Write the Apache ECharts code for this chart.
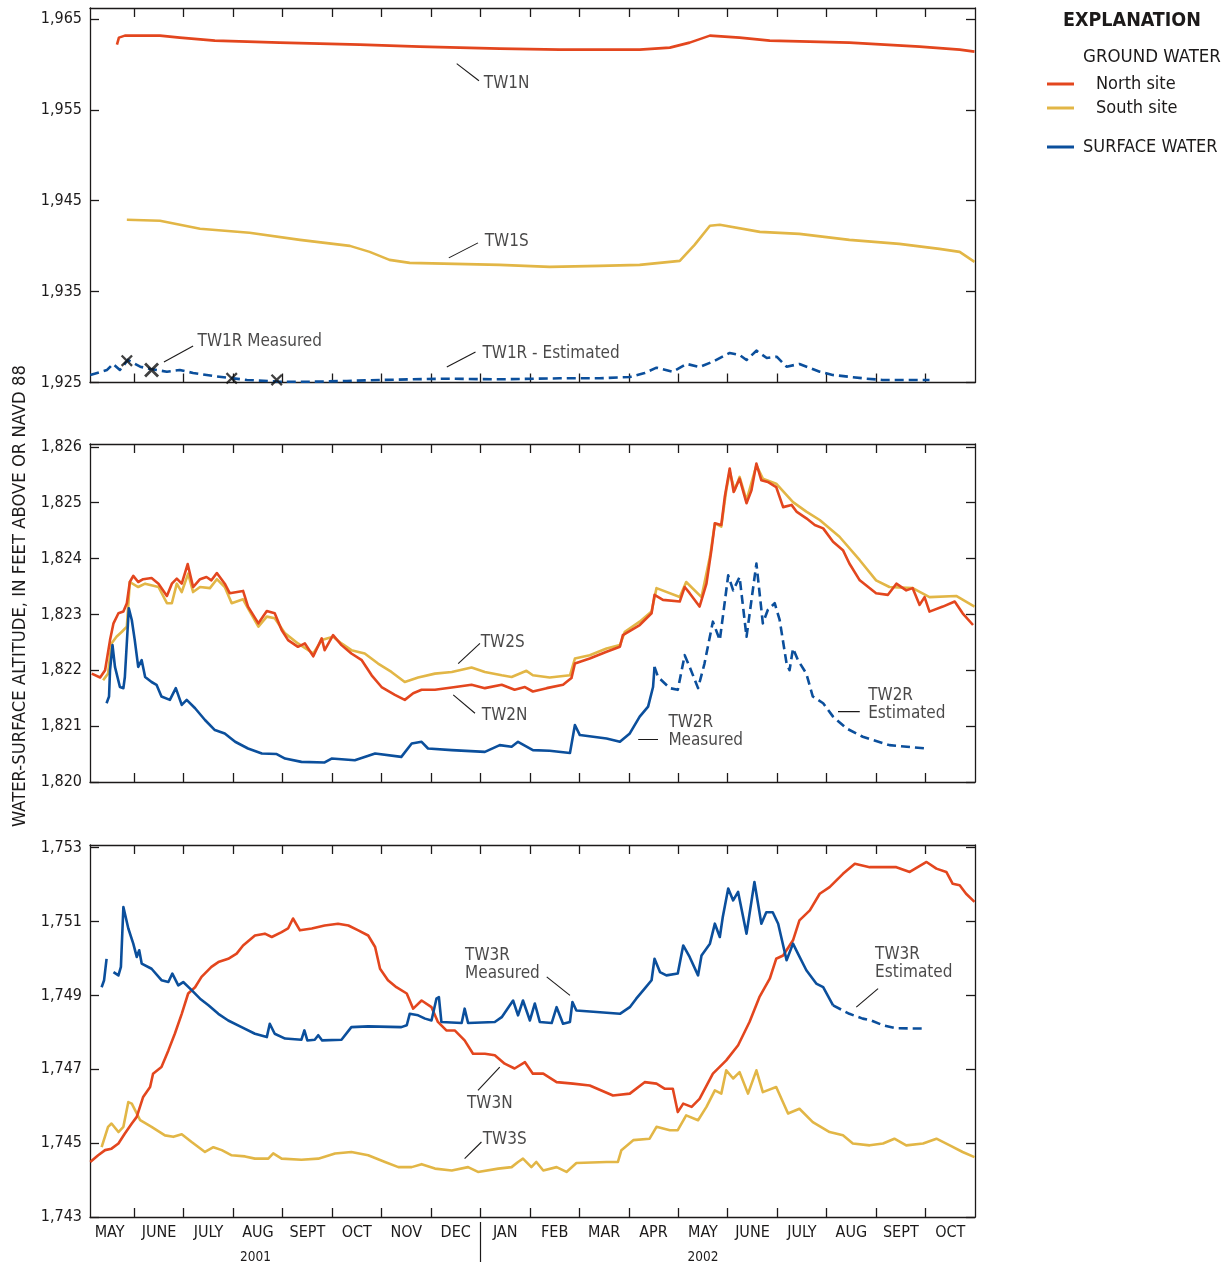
<!DOCTYPE html>
<html><head><meta charset="utf-8">
<script src="https://cdn.jsdelivr.net/npm/echarts@6/dist/echarts.min.js"></script>
<style>html,body{margin:0;padding:0;background:#fff}#c{width:1230px;height:1266px}</style>
</head><body><div id="c"></div>
<script>
// x values: months elapsed since 1 May 2001 (every calendar month drawn with equal width, as in the figure)
const monthLabels = ['MAY','JUNE','JULY','AUG','SEPT','OCT','NOV','DEC','JAN','FEB','MAR','APR','MAY','JUNE','JULY','AUG','SEPT','OCT'];
const yearLabels = ['2001','2002'];
const yearLabelPos = [3.45, 12.5];
const yearBreak = [8];
const topTicks = [1925,1935,1945,1955,1965];
const midTicks = [1820,1821,1822,1823,1824,1825,1826];
const botTicks = [1743,1745,1747,1749,1751,1753];

// ---- Site 1 (top panel)
const tw1n = [[0.65,1962.17],[0.69,1962.94],[0.81,1963.16],[1.52,1963.16],[1.92,1962.94],[2.63,1962.61],[3.94,1962.39],[5.56,1962.17],[6.77,1961.95],[8.39,1961.73],[9.60,1961.62],[11.22,1961.62],[11.83,1961.84],[12.23,1962.39],[12.64,1963.16],[13.24,1962.94],[13.85,1962.61],[15.46,1962.39],[16.88,1961.95],[17.69,1961.62],[17.99,1961.40]];
const tw1s = [[0.85,1942.90],[1.52,1942.79],[2.33,1941.91],[3.33,1941.47],[4.35,1940.69],[5.36,1940.03],[5.76,1939.37],[6.16,1938.49],[6.57,1938.16],[8.39,1937.94],[9.40,1937.72],[10.41,1937.83],[11.22,1937.94],[12.03,1938.38],[12.33,1940.14],[12.64,1942.24],[12.84,1942.35],[13.65,1941.57],[14.45,1941.35],[15.46,1940.69],[16.47,1940.25],[17.28,1939.70],[17.69,1939.37],[17.99,1938.27]];
const tw1rEstimated = [[0.11,1925.83],[0.45,1926.38],[0.57,1927.04],[0.71,1926.38],[0.87,1927.48],[1.12,1926.74],[1.32,1926.49],[1.66,1926.19],[1.92,1926.38],[2.19,1926.05],[2.59,1925.72],[2.93,1925.50],[3.28,1925.28],[3.94,1925.09],[4.61,1925.09],[5.30,1925.17],[5.97,1925.28],[6.63,1925.35],[7.32,1925.42],[8.33,1925.35],[9.60,1925.46],[10.41,1925.46],[11.02,1925.61],[11.32,1926.05],[11.56,1926.63],[11.89,1926.19],[12.17,1927.04],[12.43,1926.71],[12.70,1927.29],[13.04,1928.25],[13.24,1928.03],[13.38,1927.48],[13.58,1928.50],[13.79,1927.70],[13.99,1927.84],[14.19,1926.74],[14.45,1927.04],[14.86,1926.19],[15.12,1925.83],[15.81,1925.42],[16.13,1925.28],[17.08,1925.28]];
const tw1rMeasured = [[0.85,1927.40],[1.35,1926.38],[2.97,1925.46],[3.88,1925.28]];

// ---- Site 2 (middle panel)
const tw2n = [[0.14,1821.94],[0.31,1821.87],[0.41,1822.00],[0.51,1822.54],[0.58,1822.84],[0.68,1823.02],[0.78,1823.05],[0.85,1823.20],[0.91,1823.58],[0.98,1823.69],[1.08,1823.58],[1.18,1823.63],[1.35,1823.65],[1.49,1823.55],[1.66,1823.33],[1.76,1823.55],[1.86,1823.64],[1.96,1823.55],[2.08,1823.90],[2.19,1823.49],[2.33,1823.63],[2.46,1823.67],[2.56,1823.61],[2.67,1823.74],[2.83,1823.55],[2.93,1823.38],[3.20,1823.42],[3.30,1823.14],[3.51,1822.84],[3.68,1823.06],[3.84,1823.02],[3.98,1822.72],[4.11,1822.54],[4.31,1822.42],[4.45,1822.48],[4.62,1822.25],[4.79,1822.57],[4.85,1822.36],[5.02,1822.63],[5.19,1822.45],[5.39,1822.30],[5.60,1822.18],[5.80,1821.91],[6.00,1821.70],[6.27,1821.56],[6.47,1821.47],[6.64,1821.59],[6.81,1821.65],[7.08,1821.65],[7.42,1821.69],[7.82,1821.74],[8.09,1821.68],[8.43,1821.74],[8.69,1821.65],[8.90,1821.70],[9.06,1821.62],[9.34,1821.68],[9.67,1821.74],[9.84,1821.86],[9.91,1822.12],[10.21,1822.21],[10.55,1822.33],[10.82,1822.42],[10.88,1822.63],[11.22,1822.81],[11.46,1823.02],[11.52,1823.35],[11.69,1823.26],[12.03,1823.23],[12.13,1823.49],[12.23,1823.38],[12.43,1823.14],[12.57,1823.55],[12.67,1824.15],[12.74,1824.63],[12.87,1824.60],[12.94,1825.10],[13.04,1825.61],[13.12,1825.19],[13.24,1825.43],[13.38,1824.99],[13.48,1825.22],[13.58,1825.70],[13.68,1825.40],[13.81,1825.37],[13.98,1825.28],[14.12,1824.92],[14.29,1824.96],[14.39,1824.84],[14.59,1824.72],[14.76,1824.60],[14.93,1824.54],[15.13,1824.30],[15.33,1824.15],[15.46,1823.91],[15.67,1823.61],[16.00,1823.38],[16.24,1823.35],[16.41,1823.55],[16.61,1823.43],[16.74,1823.47],[16.88,1823.17],[16.98,1823.31],[17.08,1823.05],[17.35,1823.14],[17.59,1823.23],[17.75,1823.02],[17.96,1822.81]];
const tw2s = [[0.37,1821.82],[0.47,1821.94],[0.54,1822.48],[0.64,1822.60],[0.75,1822.69],[0.85,1822.78],[0.91,1823.58],[1.08,1823.49],[1.22,1823.55],[1.49,1823.49],[1.66,1823.20],[1.76,1823.20],[1.86,1823.55],[1.96,1823.40],[2.09,1823.73],[2.19,1823.40],[2.33,1823.49],[2.53,1823.47],[2.67,1823.63],[2.83,1823.49],[2.97,1823.20],[3.20,1823.27],[3.30,1823.11],[3.51,1822.78],[3.68,1822.96],[3.84,1822.93],[4.05,1822.66],[4.31,1822.48],[4.62,1822.30],[4.79,1822.54],[5.02,1822.60],[5.19,1822.48],[5.39,1822.36],[5.66,1822.30],[5.93,1822.12],[6.20,1821.97],[6.47,1821.79],[6.74,1821.87],[7.08,1821.94],[7.42,1821.97],[7.82,1822.05],[8.09,1821.97],[8.43,1821.91],[8.63,1821.88],[8.93,1821.99],[9.06,1821.91],[9.40,1821.87],[9.81,1821.91],[9.91,1822.21],[10.21,1822.27],[10.55,1822.39],[10.82,1822.45],[10.92,1822.69],[11.22,1822.87],[11.46,1823.05],[11.56,1823.47],[12.03,1823.31],[12.16,1823.58],[12.47,1823.31],[12.64,1824.03],[12.74,1824.63],[12.87,1824.57],[12.97,1825.22],[13.04,1825.55],[13.14,1825.22],[13.24,1825.46],[13.38,1825.04],[13.58,1825.67],[13.71,1825.43],[13.98,1825.34],[14.32,1825.01],[14.59,1824.84],[14.86,1824.69],[15.26,1824.39],[15.67,1823.97],[16.00,1823.61],[16.27,1823.49],[16.74,1823.47],[17.08,1823.31],[17.62,1823.33],[17.99,1823.14]];
const tw2rMeasured = [[0.44,1821.41],[0.49,1821.53],[0.51,1822.00],[0.56,1822.45],[0.61,1822.06],[0.71,1821.70],[0.78,1821.68],[0.81,1821.88],[0.89,1823.11],[0.95,1822.90],[1.01,1822.54],[1.08,1822.06],[1.15,1822.18],[1.22,1821.88],[1.35,1821.79],[1.45,1821.74],[1.55,1821.53],[1.72,1821.47],[1.84,1821.68],[1.96,1821.38],[2.06,1821.47],[2.23,1821.32],[2.43,1821.11],[2.63,1820.93],[2.83,1820.87],[3.04,1820.72],[3.30,1820.60],[3.58,1820.51],[3.88,1820.50],[4.05,1820.42],[4.38,1820.36],[4.85,1820.35],[4.99,1820.42],[5.46,1820.39],[5.87,1820.51],[6.40,1820.45],[6.61,1820.69],[6.81,1820.72],[6.94,1820.60],[7.42,1820.57],[8.09,1820.54],[8.39,1820.66],[8.63,1820.63],[8.76,1820.72],[9.06,1820.57],[9.40,1820.56],[9.81,1820.52],[9.91,1821.02],[10.01,1820.84],[10.55,1820.78],[10.82,1820.72],[11.02,1820.87],[11.22,1821.17],[11.39,1821.35],[11.49,1821.70],[11.52,1822.06]];
const tw2rEstimated = [[11.52,1822.06],[11.59,1821.88],[11.83,1821.68],[11.99,1821.65],[12.13,1822.27],[12.23,1822.06],[12.40,1821.68],[12.53,1822.12],[12.70,1822.87],[12.84,1822.54],[13.01,1823.70],[13.11,1823.43],[13.24,1823.67],[13.38,1822.60],[13.58,1823.91],[13.71,1822.84],[13.81,1823.08],[13.95,1823.20],[14.05,1822.90],[14.19,1822.12],[14.25,1822.00],[14.32,1822.39],[14.42,1822.18],[14.59,1821.94],[14.72,1821.53],[14.93,1821.41],[15.13,1821.17],[15.40,1820.96],[15.73,1820.81],[15.94,1820.75],[16.27,1820.66],[17.02,1820.60]];

// ---- Site 3 (bottom panel)
const tw3n = [[0.11,1744.49],[0.27,1744.67],[0.41,1744.81],[0.54,1744.85],[0.68,1744.99],[0.81,1745.26],[0.95,1745.53],[1.05,1745.71],[1.18,1746.25],[1.32,1746.52],[1.38,1746.88],[1.55,1747.06],[1.69,1747.51],[1.82,1747.96],[1.96,1748.50],[2.09,1749.05],[2.23,1749.22],[2.36,1749.50],[2.56,1749.77],[2.70,1749.90],[2.90,1749.99],[3.07,1750.13],[3.20,1750.35],[3.44,1750.62],[3.64,1750.67],[3.78,1750.58],[3.98,1750.71],[4.11,1750.81],[4.21,1751.08],[4.35,1750.76],[4.59,1750.81],[4.85,1750.89],[5.12,1750.94],[5.33,1750.89],[5.53,1750.76],[5.73,1750.62],[5.87,1750.31],[5.97,1749.72],[6.13,1749.41],[6.30,1749.22],[6.51,1749.05],[6.64,1748.64],[6.81,1748.86],[7.01,1748.68],[7.14,1748.28],[7.31,1748.05],[7.48,1748.05],[7.68,1747.78],[7.85,1747.42],[8.09,1747.42],[8.29,1747.38],[8.49,1747.15],[8.69,1747.02],[8.90,1747.19],[9.06,1746.88],[9.27,1746.88],[9.54,1746.65],[9.87,1746.61],[10.21,1746.56],[10.68,1746.29],[11.02,1746.34],[11.32,1746.65],[11.56,1746.61],[11.73,1746.47],[11.89,1746.47],[11.99,1745.84],[12.10,1746.07],[12.27,1745.98],[12.43,1746.20],[12.70,1746.88],[12.97,1747.24],[13.21,1747.65],[13.44,1748.28],[13.64,1748.95],[13.85,1749.45],[13.98,1749.99],[14.12,1750.08],[14.32,1750.49],[14.45,1751.03],[14.66,1751.30],[14.86,1751.75],[15.06,1751.93],[15.33,1752.29],[15.57,1752.56],[15.87,1752.47],[16.14,1752.47],[16.41,1752.47],[16.68,1752.34],[17.02,1752.61],[17.22,1752.43],[17.42,1752.34],[17.55,1752.02],[17.69,1751.98],[17.82,1751.75],[17.99,1751.53]];
const tw3s = [[0.34,1744.89],[0.47,1745.44],[0.54,1745.53],[0.68,1745.30],[0.78,1745.44],[0.88,1746.11],[0.95,1746.07],[1.12,1745.62],[1.35,1745.44],[1.62,1745.21],[1.79,1745.17],[1.96,1745.24],[2.16,1745.03],[2.43,1744.76],[2.60,1744.89],[2.77,1744.81],[2.97,1744.67],[3.24,1744.64],[3.44,1744.58],[3.71,1744.58],[3.81,1744.72],[3.98,1744.58],[4.38,1744.55],[4.72,1744.58],[5.06,1744.72],[5.39,1744.76],[5.73,1744.67],[6.07,1744.49],[6.34,1744.35],[6.61,1744.35],[6.81,1744.43],[7.08,1744.31],[7.42,1744.26],[7.75,1744.35],[7.95,1744.22],[8.36,1744.31],[8.63,1744.35],[8.76,1744.49],[8.86,1744.58],[9.03,1744.35],[9.13,1744.49],[9.27,1744.26],[9.54,1744.35],[9.74,1744.22],[9.94,1744.46],[10.55,1744.49],[10.78,1744.49],[10.85,1744.81],[11.09,1745.08],[11.42,1745.12],[11.56,1745.44],[11.83,1745.35],[11.99,1745.35],[12.16,1745.75],[12.40,1745.62],[12.57,1745.98],[12.74,1746.43],[12.87,1746.34],[12.97,1746.97],[13.11,1746.75],[13.24,1746.92],[13.41,1746.34],[13.58,1746.97],[13.71,1746.38],[13.98,1746.52],[14.22,1745.80],[14.45,1745.93],[14.72,1745.57],[15.06,1745.30],[15.33,1745.21],[15.53,1744.99],[15.87,1744.94],[16.14,1744.99],[16.37,1745.12],[16.61,1744.94],[16.95,1744.99],[17.22,1745.12],[17.49,1744.94],[17.75,1744.76],[17.99,1744.62]];
const tw3rFirst = [[0.34,1749.22],[0.39,1749.41],[0.44,1749.99]];
const tw3rMeasured = [[0.58,1749.63],[0.68,1749.54],[0.73,1749.77],[0.78,1751.39],[0.88,1750.81],[0.98,1750.40],[1.05,1750.04],[1.10,1750.22],[1.15,1749.86],[1.35,1749.72],[1.55,1749.41],[1.69,1749.36],[1.77,1749.59],[1.89,1749.27],[1.99,1749.36],[2.16,1749.14],[2.33,1748.91],[2.50,1748.73],[2.70,1748.50],[2.90,1748.32],[3.17,1748.14],[3.44,1747.96],[3.68,1747.87],[3.74,1748.23],[3.84,1747.96],[4.05,1747.83],[4.38,1747.80],[4.44,1748.05],[4.50,1747.78],[4.65,1747.80],[4.72,1747.92],[4.80,1747.78],[5.19,1747.80],[5.39,1748.14],[5.73,1748.16],[6.40,1748.14],[6.51,1748.19],[6.57,1748.50],[6.74,1748.46],[6.88,1748.37],[7.01,1748.32],[7.11,1748.91],[7.16,1748.95],[7.21,1748.28],[7.62,1748.25],[7.68,1748.64],[7.75,1748.25],[8.29,1748.28],[8.43,1748.41],[8.66,1748.86],[8.76,1748.46],[8.86,1748.86],[9.00,1748.32],[9.10,1748.78],[9.20,1748.28],[9.44,1748.25],[9.54,1748.68],[9.67,1748.23],[9.81,1748.28],[9.86,1748.82],[9.94,1748.59],[10.35,1748.55],[10.82,1748.50],[11.02,1748.68],[11.15,1748.91],[11.32,1749.18],[11.46,1749.41],[11.52,1749.99],[11.63,1749.63],[11.76,1749.54],[11.99,1749.59],[12.10,1750.35],[12.23,1750.04],[12.40,1749.54],[12.47,1750.08],[12.64,1750.40],[12.74,1750.94],[12.84,1750.58],[12.90,1751.12],[13.01,1751.89],[13.11,1751.57],[13.21,1751.80],[13.38,1750.67],[13.54,1752.07],[13.68,1750.94],[13.78,1751.25],[13.91,1751.25],[14.02,1750.94],[14.19,1749.95],[14.32,1750.40],[14.42,1750.13],[14.59,1749.68],[14.79,1749.32],[14.93,1749.22],[15.13,1748.73]];
const tw3rEstimated = [[15.13,1748.73],[15.46,1748.50],[15.73,1748.37],[15.90,1748.32],[16.14,1748.19],[16.41,1748.11],[17.02,1748.10]];

// ---- annotation text and leader lines (panel, text, anchor, leader from, leader to, alignment)
const notes = [
  [0,'TW1N',[8.53,1957.87],[7.52,1960.08],[7.97,1958.2],'c'],
  [0,'TW1S',[8.53,1940.47],[7.36,1938.71],[7.95,1940.36],'c'],
  [0,'TW1R Measured',[2.27,1929.46],[1.60,1927.26],[2.19,1929.02],'l'],
  [0,'TW1R - Estimated',[8.03,1928.14],[7.32,1926.71],[7.90,1928.36],'l'],
  [1,'TW2S',[8.45,1822.50],[7.55,1822.12],[7.99,1822.48],'c'],
  [1,'TW2N',[8.49,1821.18],[7.45,1821.56],[7.89,1821.23],'c'],
  [1,'TW2R\nMeasured',[11.79,1820.91],[11.19,1820.76],[11.59,1820.76],'l'],
  [1,'TW2R\nEstimated',[15.83,1821.38],[15.23,1821.26],[15.67,1821.26],'l'],
  [2,'TW3R\nMeasured',[7.68,1749.84],[9.34,1749.50],[9.81,1749.0],'l'],
  [2,'TW3N',[8.19,1746.08],[7.95,1746.43],[8.39,1747.06],'c'],
  [2,'TW3S',[8.49,1745.10],[7.68,1744.58],[8.02,1745.03],'c'],
  [2,'TW3R\nEstimated',[15.97,1749.87],[15.60,1748.68],[16.04,1749.18],'l']
];

const F = '"DejaVu Sans Condensed","Liberation Sans Narrow","Arial Narrow",sans-serif';
const INK = '#1c1a1a', RED = '#E3461E', YEL = '#E2B646', BLUE = '#0B4F9C';
const XMIN = 0.105, XMAX = 18;
const panels = [
  {top: 8, height: 374.5, min: 1925, max: 1966.2, ticks: topTicks},
  {top: 444, height: 338, min: 1820, max: 1826.05, ticks: midTicks},
  {top: 845, height: 372, min: 1743, max: 1753.07, ticks: botTicks}
];
const monthBounds = []; for (let k = 1; k < 18; k++) monthBounds.push(k);
const monthMids = monthLabels.map((_, k) => k + 0.5);
const comma = v => String(v).replace(/\B(?=(\d{3})+(?!\d))/g, ',');
const frame = {color: INK, width: 1.3};

const grid = panels.map(p => ({left: 90, width: 885, top: p.top, height: p.height}));
const xAxis = [], yAxis = [];
panels.forEach((p, i) => {
  const base = {type: 'value', gridIndex: i, min: XMIN, max: XMAX, splitLine: {show: false},
    axisLine: {show: true, onZero: false, lineStyle: frame},
    axisTick: {show: true, inside: true, length: 9, customValues: monthBounds, lineStyle: frame}};
  xAxis.push(Object.assign({}, base, {position: 'bottom',
    axisLabel: i === 2 ? {show: true, customValues: monthMids, margin: 8,
      formatter: v => monthLabels[Math.floor(v)], fontFamily: F, fontSize: 16, color: INK} : {show: false}}));
  xAxis.push(Object.assign({}, base, {position: 'top', axisLabel: {show: false}}));
  const yb = {type: 'value', gridIndex: i, min: p.min, max: p.max, splitLine: {show: false},
    axisLine: {show: true, onZero: false, lineStyle: frame},
    axisTick: {show: true, inside: true, length: 9, customValues: p.ticks, lineStyle: frame}};
  const left = Object.assign({}, yb, {position: 'left',
    axisLabel: {show: true, customValues: p.ticks, formatter: comma, margin: 8, fontFamily: F, fontSize: 16, color: INK}});
  if (i === 1) Object.assign(left, {name: 'WATER-SURFACE ALTITUDE, IN FEET ABOVE OR NAVD 88', nameLocation: 'middle',
    nameGap: 61, nameTextStyle: {fontFamily: F, fontSize: 18.3, color: INK, padding: [0, 0, 0, 34]}});
  yAxis.push(left);
  yAxis.push(Object.assign({}, yb, {position: 'right', axisLabel: {show: false}}));
});
// year row with the year-break line under the bottom panel
xAxis.push({type: 'value', gridIndex: 2, position: 'bottom', offset: 5, min: XMIN, max: XMAX,
  splitLine: {show: false}, axisLine: {show: false},
  axisTick: {show: true, inside: false, length: 40, customValues: yearBreak, lineStyle: {color: INK, width: 1.2}},
  axisLabel: {show: true, customValues: yearLabelPos, margin: 28, fontFamily: F, fontSize: 13.5, color: INK,
    formatter: v => yearLabels[yearLabelPos.indexOf(v)]}});

const series = [];
function line(name, data, panel, color, dashed) {
  series.push({type: 'line', name, data, xAxisIndex: panel * 2, yAxisIndex: panel * 2,
    showSymbol: false, symbol: 'none', silent: true, z: 3,
    lineStyle: {color, width: 2.6, type: dashed ? [9, 5] : 'solid', join: 'round'}, itemStyle: {color}});
}
line('South site', tw1s, 0, YEL);
line('North site', tw1n, 0, RED);
line('SURFACE WATER', tw1rEstimated, 0, BLUE, true);
line('South site', tw2s, 1, YEL);
line('North site', tw2n, 1, RED);
line('SURFACE WATER', tw2rMeasured, 1, BLUE);
line('SURFACE WATER', tw2rEstimated, 1, BLUE, true);
line('South site', tw3s, 2, YEL);
line('North site', tw3n, 2, RED);
line('SURFACE WATER', tw3rFirst, 2, BLUE);
line('SURFACE WATER', tw3rMeasured, 2, BLUE);
line('SURFACE WATER', tw3rEstimated, 2, BLUE, true);

series.push({type: 'scatter', name: 'TW1R measured', data: tw1rMeasured, xAxisIndex: 0, yAxisIndex: 0, z: 6,
  symbol: 'path://M0,1.6L1.6,0L6,4.4L10.4,0L12,1.6L7.6,6L12,10.4L10.4,12L6,7.6L1.6,12L0,10.4L4.4,6Z',
  symbolSize: (v, p) => p.dataIndex === 1 ? 15 : 12, itemStyle: {color: '#111'}, silent: true});

notes.forEach(([panel, text, at, a, b, align]) => {
  series.push({type: 'line', name: 'note', data: [a, b], xAxisIndex: panel * 2, yAxisIndex: panel * 2,
    showSymbol: false, symbol: 'none', silent: true, z: 4, lineStyle: {color: INK, width: 1.1}});
  series.push({type: 'scatter', name: 'note', data: [{value: at, name: text}], xAxisIndex: panel * 2, yAxisIndex: panel * 2,
    symbolSize: 1, itemStyle: {color: 'rgba(0,0,0,0)'}, silent: true, z: 5,
    label: {show: true, formatter: '{b}', position: align === 'l' ? 'right' : 'inside', distance: 0,
      align: align === 'l' ? 'left' : 'center', fontFamily: F, fontSize: 17, lineHeight: 18, color: INK}});
});

const legendText = pad => ({color: INK, rich: {t: {fontFamily: F, fontSize: 18, lineHeight: 20, color: INK, padding: [0, 0, 0, pad]}}});
const option = {
  animation: false,
  backgroundColor: '#fff',
  title: [
    {text: 'EXPLANATION', left: 1063, top: 11, padding: 0, textStyle: {fontFamily: F, fontSize: 19.5, fontWeight: 'bold', color: INK}},
    {text: 'GROUND WATER', left: 1083, top: 48, padding: 0, textStyle: {fontFamily: F, fontSize: 18.5, fontWeight: 'normal', color: INK}}
  ],
  legend: [
    {data: ['North site', 'South site'], orient: 'vertical', left: 1047, top: 75, padding: 0, itemGap: 6,
      itemWidth: 27, itemHeight: 3, icon: 'rect', selectedMode: false, formatter: n => '{t|' + n + '}', textStyle: legendText(17)},
    {data: ['SURFACE WATER'], orient: 'vertical', left: 1047, top: 138, padding: 0,
      itemWidth: 27, itemHeight: 3, icon: 'rect', selectedMode: false, formatter: n => '{t|' + n + '}', textStyle: legendText(4)}
  ],
  grid, xAxis, yAxis, series
};
const chart = echarts.init(document.getElementById('c'), null, {renderer: 'canvas'});
chart.setOption(option);
</script>
</body></html>
